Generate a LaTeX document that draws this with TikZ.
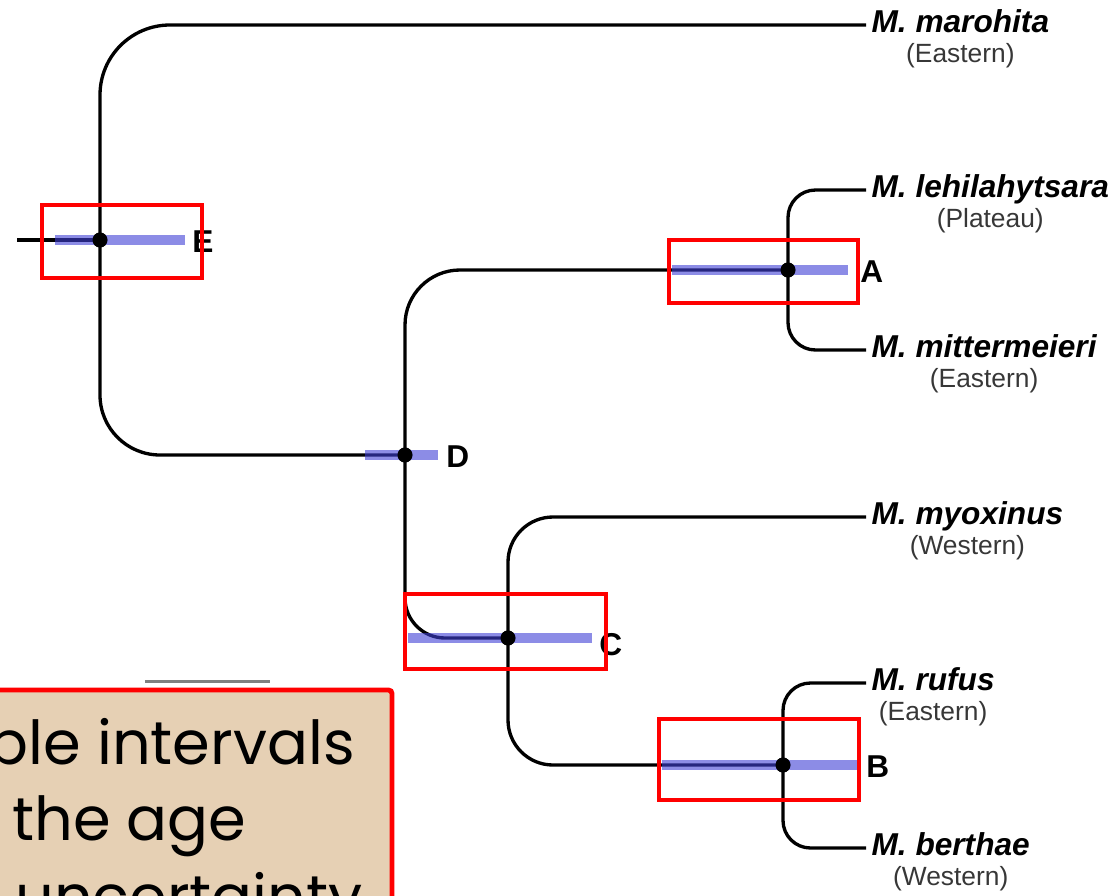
\documentclass[tikz,border=0pt]{standalone}
\usepackage{fontspec}
\setmainfont{Liberation Sans}
\newfontfamily\notefont{Poppins}
\usepackage{tikz}
\usetikzlibrary{positioning}

\definecolor{cibar}{RGB}{63,63,213}
\definecolor{notetan}{RGB}{230,208,180}
\definecolor{regiongray}{RGB}{55,55,55}

\begin{document}
\begin{tikzpicture}[x=0.02cm, y=-0.02cm]

% ---- Define Styles ----
\tikzset{
  branch/.style={line width=1.9pt, black},
  ciline/.style={line width=5.7pt, draw=cibar, opacity=0.6},
  nodedot/.style={circle, fill=black, inner sep=0pt, minimum size=8.5pt},
  hibox/.style={draw=red, line width=2.8pt},
  species/.style={anchor=west, inner ysep=0pt, inner xsep=3pt,
    font=\fontsize{18}{20}\selectfont\bfseries\itshape,
    text height=13pt, text depth=4pt},
  region/.style={below=2pt of #1, inner sep=0pt, text=regiongray,
    font=\fontsize{15}{17}\selectfont, text height=10.5pt, text depth=3pt},
  cladelab/.style={anchor=west, inner sep=0pt,
    font=\fontsize{18}{20}\selectfont\bfseries},
  notebox/.style={draw=red, fill=notetan, line width=2.8pt, rounded corners=2pt},
  notetext/.style={inner sep=0pt, font=\notefont\fontsize{34.5}{43}\selectfont}
}

\useasboundingbox (0,0) rectangle (1114,895);
\clip (0,0) rectangle (1114,895);

% =========================================================
% INTERNAL NODES (dots) and TIPS
% =========================================================
\node[nodedot] (nE) at (100,240) {};
\node[nodedot] (nD) at (405,455) {};
\node[nodedot] (nA) at (788,270) {};
\node[nodedot] (nC) at (508,638) {};
\node[nodedot] (nB) at (783,765) {};
\coordinate (root) at (17,240);

\node[species] (mar) at (866,25)  {M. marohita};
\node[region=mar]  (marR) {(Eastern)};
\node[species] (leh) at (866,190) {M. lehilahytsara};
\node[region=leh]  (lehR) {(Plateau)};
\node[species] (mit) at (866,350) {M. mittermeieri};
\node[region=mit]  (mitR) {(Eastern)};
\node[species] (myo) at (866,517) {M. myoxinus};
\node[region=myo]  (myoR) {(Western)};
\node[species] (ruf) at (866,683) {M. rufus};
\node[region=ruf]  (rufR) {(Eastern)};
\node[species] (ber) at (866,848) {M. berthae};
\node[region=ber]  (berR) {(Western)};

% =========================================================
% BRANCHES
% =========================================================
\draw[branch] (root) -- (nE.center);
\draw[branch, rounded corners=1.4cm] (nE.center) |- (mar.west);
\draw[branch, rounded corners=1.2cm] (nE.center) |- (nD.center);
\draw[branch, rounded corners=1.1cm] (nD.center) |- (nA.center);
\draw[branch, rounded corners=0.8cm] (nD.center) |- (nC.center);
\draw[branch, rounded corners=0.55cm] (nA.center) |- (leh.west);
\draw[branch, rounded corners=0.55cm] (nA.center) |- (mit.west);
\draw[branch, rounded corners=0.9cm] (nC.center) |- (myo.west);
\draw[branch, rounded corners=0.9cm] (nC.center) |- (nB.center);
\draw[branch, rounded corners=0.55cm] (nB.center) |- (ruf.west);
\draw[branch, rounded corners=0.55cm] (nB.center) |- (ber.west);

% =========================================================
% AGE INTERVAL BARS
% =========================================================
\draw[ciline] (55,240) -- (185,240);
\draw[ciline] (365,455) -- (438,455);
\draw[ciline] (672,270) -- (848,270);
\draw[ciline] (408,638) -- (592,638);
\draw[ciline] (662,765) -- (858,765);

% redraw the dots above the bars
\foreach \n in {nE,nD,nA,nC,nB}
  \fill (\n) circle (4.25pt);

\node[cladelab] (lE) at (192,242) {E};
\node[cladelab] (lD) at (446,457) {D};
\node[cladelab] (lA) at (860,272) {A};
\node[cladelab] (lC) at (599,645) {C};
\node[cladelab] (lB) at (866,767) {B};

% =========================================================
% HIGHLIGHT BOXES
% =========================================================
\draw[hibox] (42,205) rectangle (202,278);
\draw[hibox] (669,240) rectangle (858,303);
\draw[hibox] (405,594) rectangle (606,669);
\draw[hibox] (659,719) rectangle (859,800);

% scale bar
\draw[gray, line width=1.7pt] (145,681) -- (270,681);

% =========================================================
% NOTE BOX (cut by the frame)
% =========================================================
\draw[notebox] (-20,690) rectangle (392,940);
\node[notetext, anchor=base east] (note1) at (355,764) {Credible intervals};
\node[notetext, anchor=base west] (note2) at (12,840)  {the age};
\node[notetext, anchor=base west] (note3) at (15,918)  {uncertainty};

\end{tikzpicture}
\end{document}
